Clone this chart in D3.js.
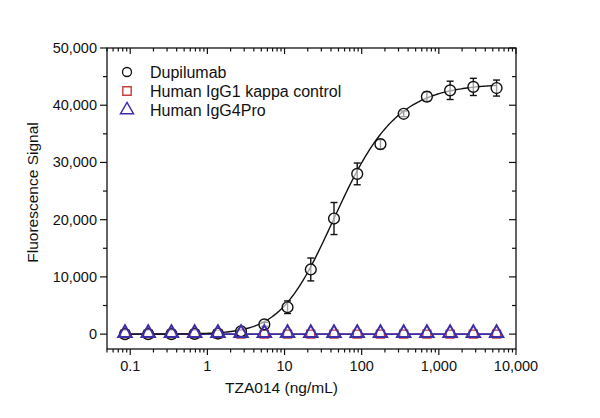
<!DOCTYPE html>
<html>
<head>
<meta charset="utf-8">
<script src="https://cdn.jsdelivr.net/npm/d3@7"></script>
<style>
  body { margin:0; background:#fff; }
  text { font-family: "Liberation Sans", Arial, sans-serif; fill:#111; }
</style>
</head>
<body>
<div id="chart-area"></div>
<script>
// 2-fold dilution series (ng/mL)
const conc = [0.0855, 0.171, 0.342, 0.684, 1.37, 2.73, 5.47, 10.94, 21.88, 43.75, 87.5, 175, 350, 700, 1400, 2800, 5600];
const dupi = [0, 0, 0, 50, 100, 500, 1700, 4700, 11300, 20200, 28000, 33200, 38500, 41500, 42600, 43200, 43000];
const dupiErr = [0, 0, 0, 0, 0, 150, 350, 1100, 2000, 2800, 1900, 800, 500, 800, 1600, 1500, 1400];
const igg1 = [0, 0, 0, 0, 0, 0, 0, 0, 0, 0, 0, 0, 0, 0, 0, 0, 0];
const igg4 = [0, 0, 0, 0, 0, 0, 0, 0, 0, 0, 0, 0, 0, 0, 0, 0, 0];
// 5PL fit of Dupilumab (bottom, top, c, slope, asymmetry)
const fitBottom = 0, fitTop = 43800, fitC = 23.5, fitB = 1.0, fitS = 1.8;

const xTicks = [0.1, 1, 10, 100, 1000, 10000];
const yTicks = [0, 10000, 20000, 30000, 40000, 50000];
const legendNames = ["Dupilumab", "Human IgG1 kappa control", "Human IgG4Pro"];

const W = 600, H = 418;
const margin = {top:48, right:84, bottom:69, left:107};
const width = W - margin.left - margin.right;
const height = H - margin.top - margin.bottom;

const svg = d3.select("#chart-area").append("svg")
    .attr("width", W).attr("height", H);
const g = svg.append("g")
    .attr("transform", "translate(" + margin.left + "," + margin.top + ")");

const x = d3.scaleLog().domain([0.05, 10000]).range([0, width]);
const y = d3.scaleLinear().domain([-2600, 50000]).range([height, 0]);

const minorX = [];
for (let e = -2; e < 4; e++) for (let m = 2; m < 10; m++) {
  const v = m * Math.pow(10, e);
  if (v >= 0.05 && v <= 10000) minorX.push(v);
}
const minorY = d3.range(5000, 50000, 10000);

// frame
g.append("rect").attr("width", width).attr("height", height)
  .attr("fill", "none").attr("stroke", "#111").attr("stroke-width", 1.3);

const tickStyle = sel => sel.attr("stroke", "#111").attr("stroke-width", 1.2);

// bottom axis ticks point out, top mirror ticks point in
[height, 0].forEach(yy => {
  g.append("g").selectAll("line").data(xTicks).join("line")
    .attr("x1", d => x(d)).attr("x2", d => x(d))
    .attr("y1", yy).attr("y2", yy + 6).call(tickStyle);
  g.append("g").selectAll("line").data(minorX).join("line")
    .attr("x1", d => x(d)).attr("x2", d => x(d))
    .attr("y1", yy).attr("y2", yy + 3.5).call(tickStyle);
});
// left axis ticks point out, right mirror ticks point in
[0, width].forEach(xx => {
  g.append("g").selectAll("line").data(yTicks).join("line")
    .attr("y1", d => y(d)).attr("y2", d => y(d))
    .attr("x1", xx).attr("x2", xx - 7).call(tickStyle);
  g.append("g").selectAll("line").data(minorY).join("line")
    .attr("y1", d => y(d)).attr("y2", d => y(d))
    .attr("x1", xx).attr("x2", xx - 4).call(tickStyle);
});

g.append("g").selectAll("text").data(xTicks).join("text")
  .attr("x", d => x(d)).attr("y", height + 22)
  .attr("text-anchor", "middle").style("font-size", "14.5px")
  .text(d => d3.format(",")(d));
g.append("g").selectAll("text").data(yTicks).join("text")
  .attr("x", -10).attr("y", d => y(d) + 5)
  .attr("text-anchor", "end").style("font-size", "14.5px")
  .text(d => d3.format(",")(d));

g.append("text").attr("x", x(10) - 3).attr("y", height + 44)
  .attr("text-anchor", "middle").style("font-size", "15.5px").text("TZA014 (ng/mL)");
g.append("text").attr("transform", "translate(-69," + (height / 2 - 6) + ") rotate(-90)")
  .attr("text-anchor", "middle").style("font-size", "15.5px").text("Fluorescence Signal");

// series lines
const flat = d3.line().x((d, i) => x(conc[i])).y(d => y(d));
g.append("path").attr("d", flat(igg1)).attr("fill", "none").attr("stroke", "#c83c3c").attr("stroke-width", 1.4);
g.append("path").attr("d", flat(igg4)).attr("fill", "none").attr("stroke", "#3a2fa8").attr("stroke-width", 1.6);

// fit curve
const fit = c => fitBottom + (fitTop - fitBottom) / Math.pow(1 + Math.pow(fitC / c, fitB), fitS);
const lx0 = Math.log10(conc[0]), lx1 = Math.log10(conc[conc.length - 1]);
const fitX = d3.range(0, 201).map(i => Math.pow(10, lx0 + i / 200 * (lx1 - lx0)));
g.append("path")
  .attr("d", d3.line().x(d => x(d)).y(d => y(fit(d)))(fitX))
  .attr("fill", "none").attr("stroke", "#111").attr("stroke-width", 1.4);

// error bars
const eb = g.append("g").attr("stroke", "#111").attr("stroke-width", 1.4);
dupi.forEach((v, i) => {
  if (!dupiErr[i]) return;
  const cx = x(conc[i]);
  eb.append("line").attr("x1", cx).attr("x2", cx).attr("y1", y(v - dupiErr[i])).attr("y2", y(v + dupiErr[i]));
  [v - dupiErr[i], v + dupiErr[i]].forEach(e =>
    eb.append("line").attr("x1", cx - 3.5).attr("x2", cx + 3.5).attr("y1", y(e)).attr("y2", y(e)));
});

// markers
const sq = d3.symbol().type(d3.symbolSquare).size(64);
const tri = d3.symbol().type(d3.symbolTriangle).size(78);
g.append("g").selectAll("path").data(igg1).join("path")
  .attr("d", sq).attr("transform", (d, i) => "translate(" + x(conc[i]) + "," + y(d) + ")")
  .attr("fill", "#fff").attr("stroke", "#c83c3c").attr("stroke-width", 1.4);
g.append("g").selectAll("circle").data(dupi).join("circle")
  .attr("cx", (d, i) => x(conc[i])).attr("cy", d => y(d)).attr("r", 5.4)
  .attr("fill", "#fff").attr("fill-opacity", 0.6).attr("stroke", "#111").attr("stroke-width", 1.4);
g.append("g").selectAll("path").data(igg4).join("path")
  .attr("d", tri).attr("transform", (d, i) => "translate(" + x(conc[i]) + "," + (y(d) - 1) + ")")
  .attr("fill", "none").attr("stroke", "#3a2fa8").attr("stroke-width", 2);

// legend
const leg = g.append("g").attr("transform", "translate(20,24)");
const legSym = [
  s => s.append("circle").attr("r", 4.5).attr("fill", "none").attr("stroke", "#111").attr("stroke-width", 1.3),
  s => s.append("path").attr("d", d3.symbol().type(d3.symbolSquare).size(70)).attr("fill", "none").attr("stroke", "#c83c3c").attr("stroke-width", 1.4),
  s => s.append("path").attr("d", d3.symbol().type(d3.symbolTriangle).size(75)).attr("fill", "none").attr("stroke", "#3a2fa8").attr("stroke-width", 1.4)
];
legendNames.forEach((name, i) => {
  const row = leg.append("g").attr("transform", "translate(0," + (i * 19) + ")");
  legSym[i](row);
  row.append("text").attr("x", 23).attr("y", 6).style("font-size", "16px").text(name);
});
</script>
</body>
</html>
